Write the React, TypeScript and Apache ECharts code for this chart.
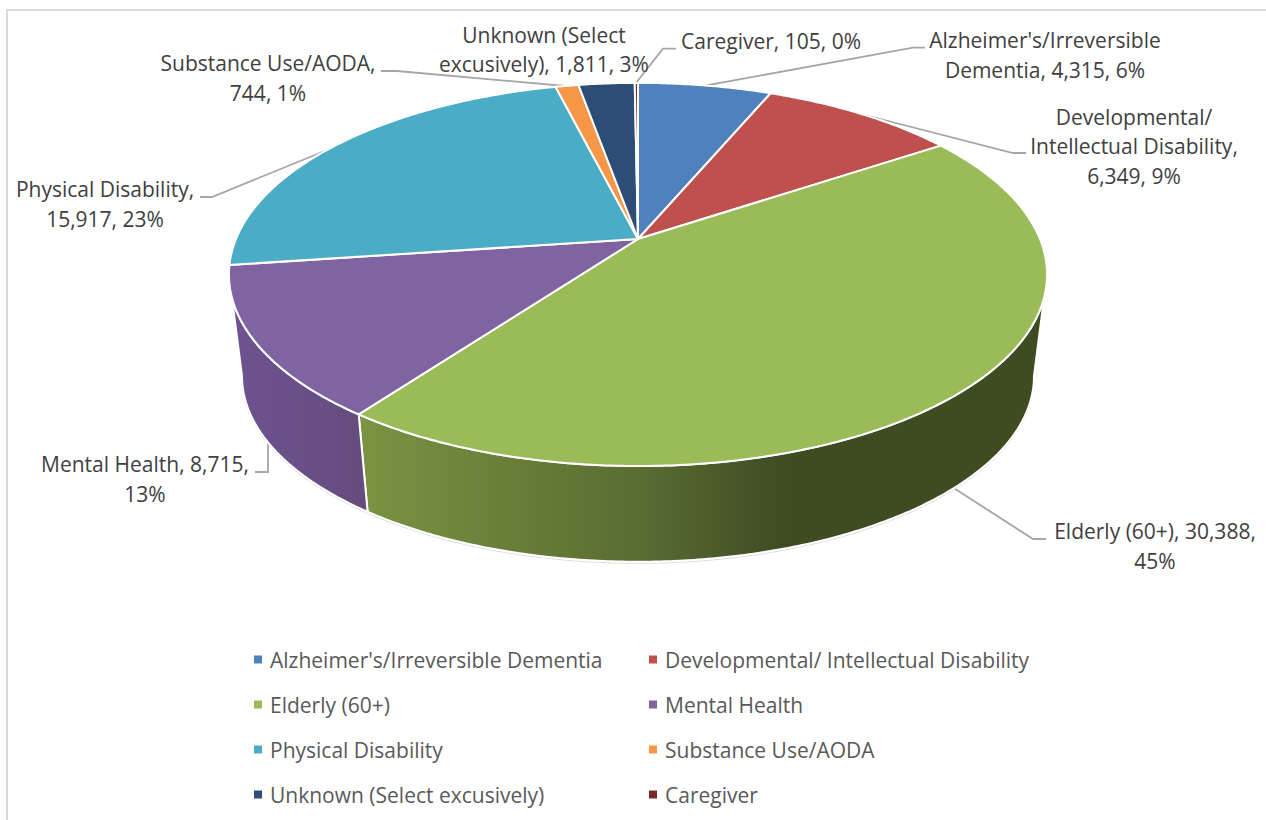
import React, { useEffect, useRef } from "react";
import * as echarts from "echarts";

const categories = [
  "Alzheimer's/Irreversible Dementia",
  "Developmental/ Intellectual Disability",
  "Elderly (60+)",
  "Mental Health",
  "Physical Disability",
  "Substance Use/AODA",
  "Unknown (Select excusively)",
  "Caregiver",
];
const values = [4315, 6349, 30388, 8715, 15917, 744, 1811, 105];
const colors = ["#4F81BD", "#C0504D", "#9BBB59", "#8064A2", "#4BACC6", "#F79646", "#2C4D75", "#772C2A"];
const legendColumns = [
  [categories[0], categories[2], categories[4], categories[6]],
  [categories[1], categories[3], categories[5], categories[7]],
];
const labelTexts = [
  "Alzheimer's/Irreversible\nDementia, 4,315, 6%",
  "Developmental/\nIntellectual Disability,\n6,349, 9%",
  "Elderly (60+), 30,388,\n45%",
  "Mental Health, 8,715,\n13%",
  "Physical Disability,\n15,917, 23%",
  "Substance Use/AODA,\n744, 1%",
  "Unknown (Select\nexcusively), 1,811, 3%",
  "Caregiver, 105, 0%",
];
const labelCenters = [
  [1045, 55], [1134, 146], [1155, 546], [145, 479],
  [105, 204], [268, 78], [544, 49.5], [771, 40.5],
];
const leaders = [
  [[925, 47.7], [913, 47.7], [703, 86]],
  [[1026, 153], [1013, 153], [857, 113]],
  [[1046, 539], [1033, 539], [949, 485]],
  [[255, 472], [268, 472], [268, 433]],
  [[200, 197], [212, 197], [337, 146]],
  [[381, 71], [397, 71], [565, 86]],
  [],
  [[676, 48.7], [663, 48.7], [636, 83]],
];
const sideStops = [
  [[0, "#7A9442"], [0.12, "#70883D"], [0.29, "#637736"], [0.41, "#5A6D32"], [0.5, "#4E5F2C"], [0.59, "#425025"], [0.63, "#3F4C22"], [1, "#3F4C22"]],
  [[0, "#6E5390"], [1, "#644C7E"]],
];

const CX = 638, CY = 239, RX = 402, RY = 185, K = 0.185;
const BOTTOM_CY = 342, BOTTOM_F = 0.968;
const total = values.reduce((a, b) => a + b, 0);
const starts = values.map((_, i) => values.slice(0, i).reduce((a, b) => a + b, 0));
const TAU = Math.PI * 2;
const SIL_R = Math.acos(-K), SIL_L = TAU - SIL_R;

const proj = (t: number, cy: number, f: number) => {
  const s = 1 / (1 + K * Math.cos(t));
  return [CX + RX * f * Math.sin(t) * s, cy - RY * f * Math.cos(t) * s];
};
const arc = (a: number, b: number, cy: number, f: number) => {
  const n = Math.max(2, Math.ceil(Math.abs(b - a) / 0.01));
  const pts: number[][] = [];
  for (let i = 0; i <= n; i++) pts.push(proj(a + ((b - a) * i) / n, cy, f));
  return pts;
};

const makeRender = (index: number) => (_params: any, api: any) => {
  const v = api.value(0);
  const a = (starts[index] / total) * TAU;
  const b = ((starts[index] + v) / total) * TAU;
  const children: any[] = [];
  const sa = Math.max(a, SIL_R), sb = Math.min(b, SIL_L);
  if (sb > sa) {
    const gradStops = index === 2 ? sideStops[0] : sideStops[1];
    const fill = new echarts.graphic.LinearGradient(
      index === 2 ? 360 : 229, 0, index === 2 ? 1040 : 367, 0,
      gradStops.map(([offset, color]) => ({ offset: offset as number, color: color as string })),
      true
    );
    children.push({
      type: "polyline",
      shape: { points: arc(sa, sb, BOTTOM_CY + 1.5, BOTTOM_F) },
      style: { fill: "none", stroke: "#DADADA", lineWidth: 1 },
    });
    children.push({
      type: "polygon",
      shape: { points: [...arc(sa, sb, CY, 1), ...arc(sb, sa, BOTTOM_CY, BOTTOM_F)] },
      style: { fill, stroke: "#FFFFFF", lineWidth: 2 },
    });
  }
  children.push({
    type: "polygon",
    shape: { points: [[CX, CY], ...arc(a, b, CY, 1)] },
    style: { fill: colors[index], stroke: "#FFFFFF", lineWidth: 2, lineJoin: "round" },
  });
  return { type: "group", children };
};

const FONT = "'Open Sans', sans-serif";

export default function App() {
  const ref = useRef<HTMLDivElement>(null);
  useEffect(() => {
    document.body.style.margin = "0";
    const chart = echarts.init(ref.current!, undefined, { renderer: "svg" });
    chart.setOption({
      animation: false,
      backgroundColor: "#FFFFFF",
      legend: legendColumns.map((col, i) => ({
        data: col,
        orient: "vertical",
        left: i === 0 ? 254 : 649,
        top: 649,
        padding: 0,
        itemGap: 24,
        itemWidth: 8,
        itemHeight: 8,
        icon: "rect",
        selectedMode: false,
        textStyle: { fontFamily: FONT, fontSize: 21, lineHeight: 20, color: "#595959", padding: [0, 0, 0, 3] },
      })),
      series: categories.map((name, i) => ({
        type: "custom",
        name,
        coordinateSystem: "none",
        silent: true,
        itemStyle: { color: colors[i] },
        renderItem: makeRender(i),
        data: [[values[i]]],
      })),
      graphic: [
        {
          type: "polyline",
          shape: { points: [[7, 820], [7, 10], [1266, 10]] },
          style: { fill: "none", stroke: "#D9D9D9", lineWidth: 2 },
        },
        ...leaders.filter((l) => l.length).map((points) => ({
          type: "polyline",
          shape: { points },
          style: { fill: "none", stroke: "#A6A6A6", lineWidth: 1.8 },
        })),
        ...labelTexts.map((text, i) => ({
          type: "text",
          x: labelCenters[i][0],
          y: labelCenters[i][1],
          style: {
            text,
            font: `21px ${FONT}`,
            fill: "#404040",
            align: "center",
            verticalAlign: "middle",
            lineHeight: 29.5,
          },
        })),
      ],
    });
    return () => chart.dispose();
  }, []);
  return <div ref={ref} style={{ width: 1266, height: 820 }} />;
}
